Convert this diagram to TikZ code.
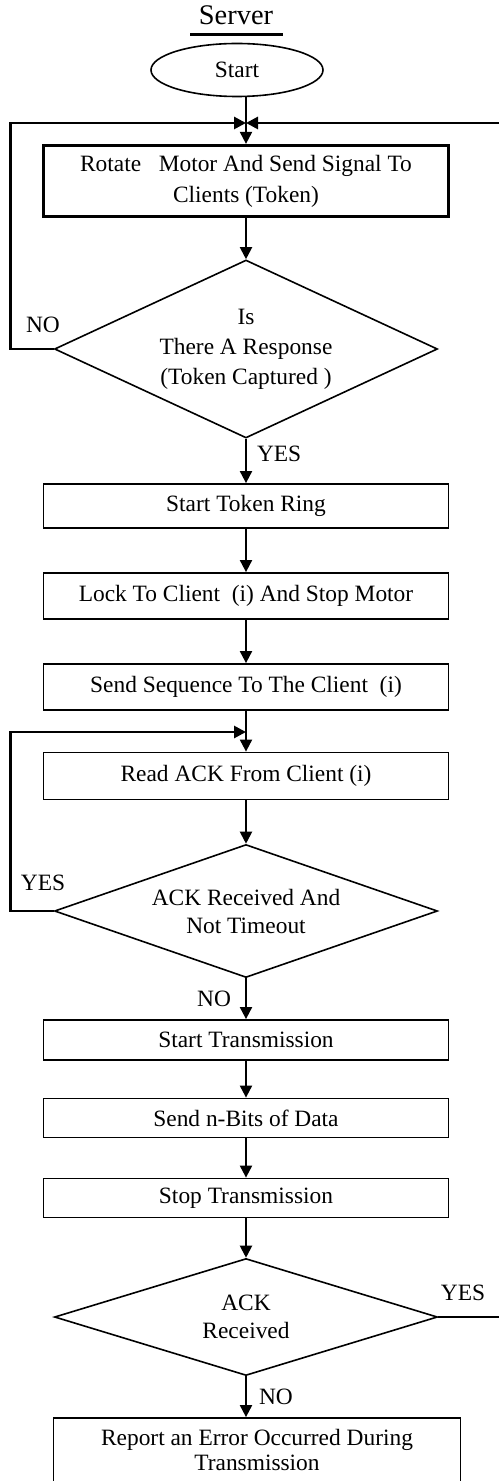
\documentclass[tikz,border=0pt]{standalone}
\usepackage{fontspec}
\setmainfont{Liberation Serif}
\usetikzlibrary{arrows.meta, shapes.geometric, positioning, calc}

\begin{document}
\begin{tikzpicture}[x=0.5pt, y=-0.5pt, >={Triangle[length=6pt,width=6pt]},
    font=\fontsize{11.7}{14}\selectfont,
    box/.style={draw, line width=0.9pt, minimum width=202.5pt, minimum height=23pt, align=center, inner sep=2pt},
    decision/.style={draw, diamond, line width=0.8pt, minimum width=191.5pt, inner sep=0pt, align=center},
    flow/.style={->, line width=1pt},
    loopline/.style={->, line width=1.4pt},
    lbl/.style={inner sep=1pt}]
      \useasboundingbox (0,0) rectangle (498,1481);

      \node (srv) at (236,15) [font=\fontsize{14.2}{16}\selectfont] {Server};
      \draw[line width=1.5pt] (190,35) -- (283,35);
      \node[draw, ellipse, line width=0.8pt, minimum width=86pt, minimum height=26.5pt, inner sep=0pt] (start) at (237,70) {Start};
      \coordinate (junc) at (246,123);

      \node[box, line width=1.6pt, minimum height=35.5pt, font=\fontsize{11.7}{15.5}\selectfont] (rot) at (246,181) {Rotate\ \ \ Motor And Send Signal To\\Clients (Token)};
      \node[decision, aspect=2.15, minimum height=89pt, font=\fontsize{11.7}{15}\selectfont] (resp) at (246,349) {Is\\There A Response\\(Token Captured )};
      \node[box, minimum height=22pt] (ring) at (246,506) {Start Token Ring};
      \node[box] (lock) at (246,596) {Lock To Client\ \ (i) And Stop Motor};
      \node[box] (seq) at (246,687) {Send Sequence To The Client\ \ (i)};
      \coordinate (jn2) at (246,732);
      \node[box, minimum height=23.5pt] (read) at (246,776) {Read ACK From Client (i)};
      \node[decision, aspect=2.88, minimum height=66.5pt] (ackto) at (246,911) {ACK Received And\\Not Timeout};
      \node[box, minimum height=20pt] (stx) at (246,1040) {Start Transmission};
      \node[box, minimum height=19.5pt] (bits) at (246,1118) {Send n-Bits of Data};
      \node[box, minimum height=19.5pt] (stp) at (246,1198) {Stop Transmission};
      \node[decision, aspect=3.27, minimum height=58.5pt] (ackr) at (246,1317) {ACK\\Received};
      \node[box, minimum width=203.5pt, minimum height=32pt, font=\fontsize{11.7}{12.5}\selectfont] (rep) at (257,1450) {Report an Error Occurred During\\Transmission};

      % main line
      \draw[line width=1pt] (start.south -| junc) -- (junc);
      \path[flow] (junc) edge (rot)
      (rot) edge (resp)
      (resp) edge node[lbl, right=4pt, pos=0.35] {YES} (ring)
      (ring) edge (lock)
      (lock) edge (seq)
      (seq) edge (read)
      (read) edge (ackto)
      (ackto) edge node[lbl, left=6pt] {NO} (stx)
      (stx) edge (bits)
      (bits) edge (stp)
      (stp) edge (ackr)
      (ackr) edge node[lbl, right=5pt] {NO} (rep.north -| ackr);

      % loops back
      \draw[loopline] (resp.west) -- ++(-43,0) |- (junc);
      \draw[loopline] (ackr.east) -- ++(70,0) |- (junc);
      \draw[loopline] (ackto.west) -- ++(-43,0) |- (jn2);
      \node[lbl] at (43,325) {NO};
      \node[lbl] at (43,883) {YES};
      \node[lbl] at (463,1293) {YES};
    \end{tikzpicture}
\end{document}
